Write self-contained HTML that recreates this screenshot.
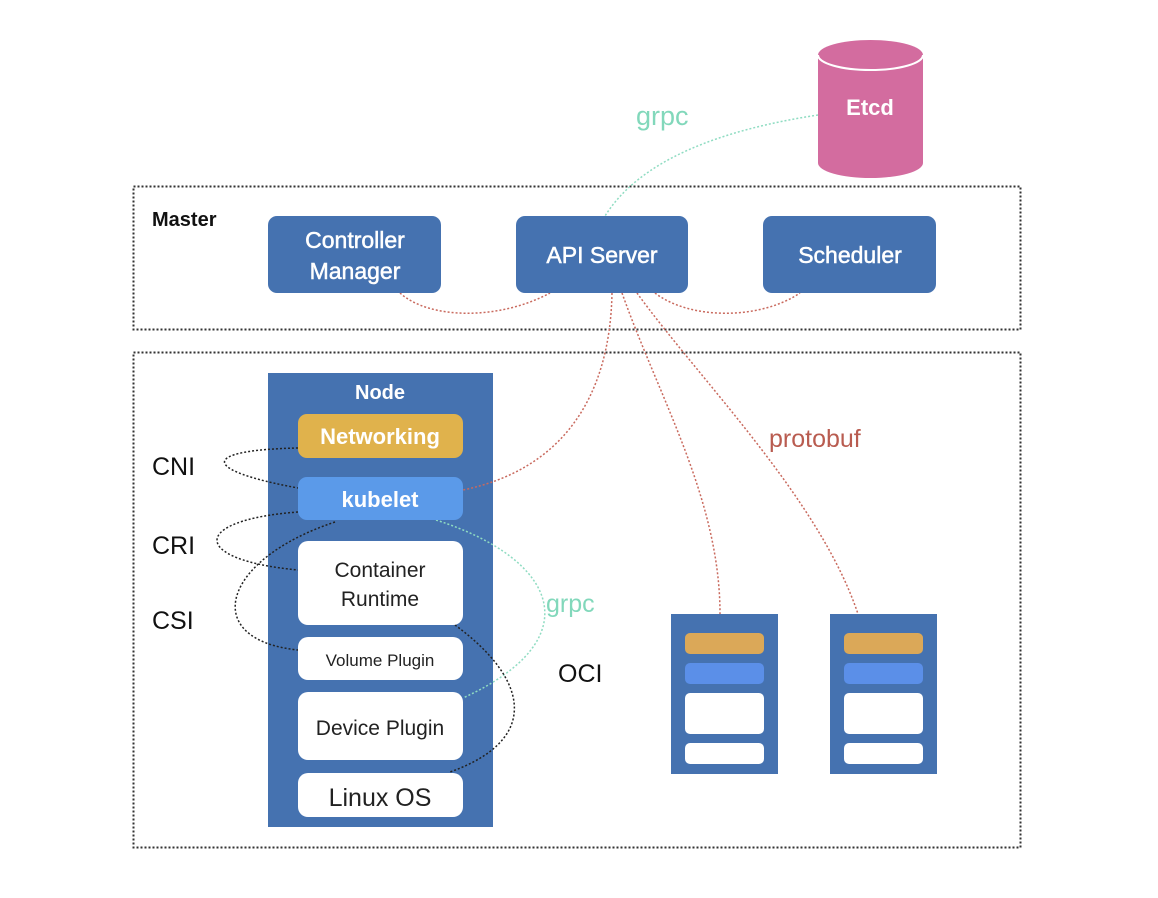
<!DOCTYPE html>
<html><head><meta charset="utf-8"><style>
html,body{margin:0;padding:0;background:#fff;}
svg{display:block;}
text{font-family:"Liberation Sans",sans-serif;}
</style></head><body>
<svg width="1158" height="898" viewBox="0 0 1158 898" xmlns="http://www.w3.org/2000/svg">
<rect x="0" y="0" width="1158" height="898" fill="#fff"/>
<rect x="133.5" y="186.5" width="887" height="143" fill="none" stroke="#333" stroke-width="2" stroke-dasharray="2,2"/>
<rect x="133.5" y="352.5" width="887" height="495" fill="none" stroke="#333" stroke-width="2" stroke-dasharray="2,2"/>
<text x="152" y="226" font-size="20" font-weight="bold" fill="#111">Master</text>

<path d="M818,55 L818,163 A52.5,15 0 0 0 923,163 L923,55 Z" fill="#d36c9f"/>
<ellipse cx="870.5" cy="55" rx="52.5" ry="15" fill="#d36c9f"/>
<path d="M818,55 A52.5,15 0 0 0 923,55" fill="none" stroke="#fff" stroke-width="2"/>
<text x="870" y="115" font-size="22" font-weight="bold" fill="#fff" text-anchor="middle">Etcd</text>

<rect x="268" y="373" width="225" height="454" fill="#4572b0"/>

<g fill="none" stroke-width="1.5" stroke-dasharray="2,2">
<path d="M818,115 C720,130 640,160 605,216" stroke="#8fdcc2"/>
<path d="M400,293 C430,320 500,320 550,293" stroke="#c96a5e"/>
<path d="M655,293 C690,320 760,320 800,293" stroke="#c96a5e"/>
<path d="M612,293 C610,400 560,470 463,490" stroke="#c96a5e"/>
<path d="M622,293 C660,400 720,500 720,614" stroke="#c96a5e"/>
<path d="M637,293 C700,380 820,500 858,614" stroke="#c96a5e"/>
<path d="M436,520 C560,560 590,640 463,698" stroke="#8fdcc2"/>
<path d="M298,448 C200,450 200,470 298,488" stroke="#222"/>
<path d="M298,512 C190,520 190,560 298,570" stroke="#222"/>
<path d="M335,522 C220,560 200,640 298,650" stroke="#222"/>
<path d="M455,625 C530,680 540,740 450,772" stroke="#222"/>
</g>

<g fill="#4572b0">
<rect x="268" y="216" width="173" height="77" rx="9"/>
<rect x="516" y="216" width="172" height="77" rx="9"/>
<rect x="763" y="216" width="173" height="77" rx="9"/>
</g>
<g fill="#fff" font-size="23" text-anchor="middle" stroke="#fff" stroke-width="0.5">
<text x="355" y="248">Controller</text>
<text x="355" y="279">Manager</text>
<text x="602" y="263">API Server</text>
<text x="850" y="263">Scheduler</text>
</g>

<text x="380" y="399" font-size="20" font-weight="bold" fill="#fff" text-anchor="middle">Node</text>
<rect x="298" y="414" width="165" height="44" rx="9" fill="#e0b24c"/>
<text x="380" y="444" font-size="22" font-weight="bold" fill="#fff" text-anchor="middle">Networking</text>
<rect x="298" y="477" width="165" height="43" rx="9" fill="#5b9ae9"/>
<text x="380" y="507" font-size="22" font-weight="bold" fill="#fff" text-anchor="middle">kubelet</text>
<g fill="#fff">
<rect x="298" y="541" width="165" height="84" rx="10"/>
<rect x="298" y="637" width="165" height="43" rx="10"/>
<rect x="298" y="692" width="165" height="68" rx="10"/>
<rect x="298" y="773" width="165" height="44" rx="10"/>
</g>
<g fill="#222" text-anchor="middle">
<text x="380" y="577" font-size="21">Container</text>
<text x="380" y="606" font-size="21">Runtime</text>
<text x="380" y="666" font-size="17">Volume Plugin</text>
<text x="380" y="735" font-size="21">Device Plugin</text>
<text x="380" y="806" font-size="25">Linux OS</text>
</g>

<g>
<rect x="671" y="614" width="107" height="160" fill="#4572b0"/>
<rect x="685" y="633" width="79" height="21" rx="5" fill="#dba858"/>
<rect x="685" y="663" width="79" height="21" rx="5" fill="#5b8fe8"/>
<rect x="685" y="693" width="79" height="41" rx="5" fill="#fff"/>
<rect x="685" y="743" width="79" height="21" rx="5" fill="#fff"/>
<rect x="830" y="614" width="107" height="160" fill="#4572b0"/>
<rect x="844" y="633" width="79" height="21" rx="5" fill="#dba858"/>
<rect x="844" y="663" width="79" height="21" rx="5" fill="#5b8fe8"/>
<rect x="844" y="693" width="79" height="41" rx="5" fill="#fff"/>
<rect x="844" y="743" width="79" height="21" rx="5" fill="#fff"/>
</g>

<g font-size="25" fill="#111">
<text x="152" y="475">CNI</text>
<text x="152" y="554">CRI</text>
<text x="152" y="629">CSI</text>
<text x="558" y="682">OCI</text>
</g>
<text x="636" y="125" font-size="27" fill="#82d8bb">grpc</text>
<text x="546" y="612" font-size="25" fill="#82d8bb">grpc</text>
<text x="769" y="447" font-size="25" fill="#b95c50">protobuf</text>
</svg>
</body></html>
